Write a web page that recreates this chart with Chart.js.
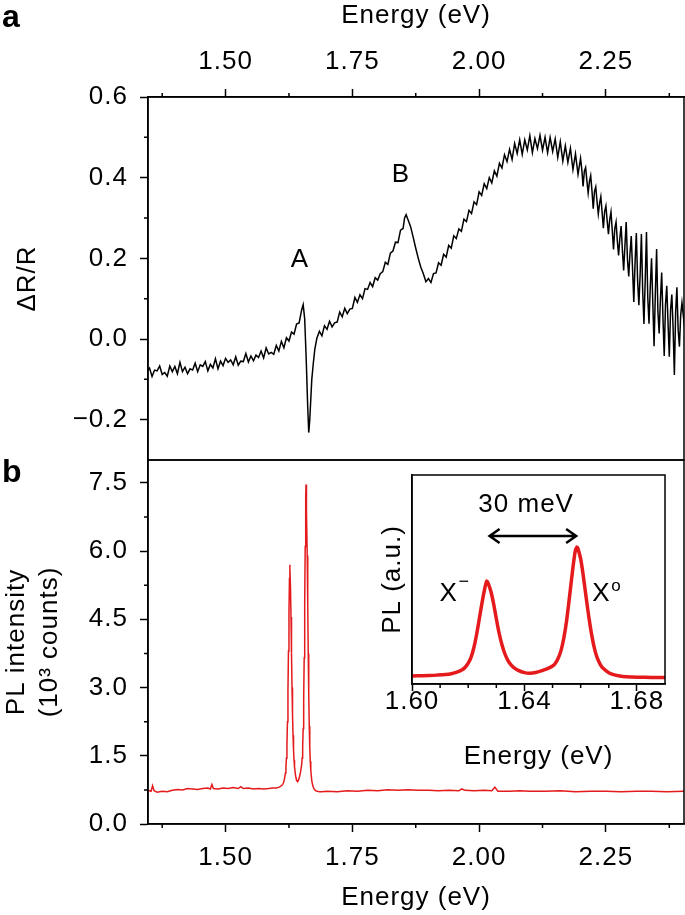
<!DOCTYPE html>
<html>
<head>
<meta charset="utf-8">
<script src="https://cdn.jsdelivr.net/npm/chart.js@4.4.0/dist/chart.umd.min.js"></script>
<style>
  html, body { margin: 0; padding: 0; background: #fff; }
  #wrap { position: relative; width: 685px; height: 915px; }
  #wrap canvas { position: absolute; left: 0; top: 0; }
</style>
</head>
<body>
<div id="wrap">
  <canvas id="reflect_canvas" width="685" height="915"></canvas>
  <canvas id="pl_canvas" width="685" height="915"></canvas>
  <canvas id="inset_canvas" width="685" height="915"></canvas>
</div>
<script>
/*--------------------------------------------------------------------------------
----- DATA
--------------------------------------------------------------------------------*/

// shared energy axis of panels a and b
const energyTicks = [1.50, 1.75, 2.00, 2.25];
const energyMinor = [1.375, 1.625, 1.875, 2.125, 2.375];

// panel a: differential reflectance
const dRRTicks = [-0.2, 0.0, 0.2, 0.4, 0.6];
const dRRMinor = [-0.1, 0.1, 0.3, 0.5];

const reflEnergy = [
    1.345, 1.350, 1.355, 1.360, 1.365, 1.370, 1.375, 1.380, 1.385, 1.390,
    1.395, 1.400, 1.405, 1.410, 1.415, 1.420, 1.425, 1.430, 1.435, 1.440,
    1.445, 1.450, 1.455, 1.460, 1.465, 1.470, 1.475, 1.480, 1.485, 1.490,
    1.495, 1.500, 1.505, 1.510, 1.515, 1.520, 1.525, 1.530, 1.535, 1.540,
    1.545, 1.550, 1.555, 1.560, 1.565, 1.570, 1.575, 1.580, 1.585, 1.590,
    1.595, 1.600, 1.605, 1.610, 1.615, 1.620, 1.625, 1.630, 1.635, 1.640,
    1.645, 1.650, 1.653, 1.656, 1.659, 1.662, 1.664, 1.666, 1.668, 1.670,
    1.673, 1.676, 1.680, 1.685, 1.690, 1.695, 1.700, 1.705, 1.710, 1.715,
    1.720, 1.725, 1.730, 1.735, 1.740, 1.745, 1.750, 1.755, 1.760, 1.765,
    1.770, 1.775, 1.780, 1.785, 1.790, 1.795, 1.800, 1.805, 1.810, 1.815,
    1.820, 1.825, 1.830, 1.835, 1.840, 1.845, 1.850, 1.853, 1.856, 1.860,
    1.865, 1.870, 1.875, 1.880, 1.885, 1.890, 1.895, 1.900, 1.905, 1.910,
    1.915, 1.920, 1.925, 1.930, 1.935, 1.940, 1.945, 1.950, 1.955, 1.960,
    1.965, 1.970, 1.975, 1.980, 1.985, 1.990, 1.995, 2.000, 2.005, 2.010,
    2.015, 2.020, 2.025, 2.030, 2.035, 2.040, 2.045, 2.050, 2.055, 2.060,
    2.065, 2.070, 2.075, 2.080, 2.085, 2.090, 2.095, 2.100, 2.105, 2.110,
    2.115, 2.120, 2.125, 2.130, 2.135, 2.140, 2.145, 2.150, 2.155, 2.160,
    2.165, 2.170, 2.175, 2.180, 2.185, 2.190, 2.195, 2.200, 2.2025, 2.205,
    2.2075, 2.210, 2.2125, 2.215, 2.2175, 2.220, 2.2225, 2.225, 2.2275, 2.230,
    2.2325, 2.235, 2.2375, 2.240, 2.2425, 2.245, 2.2475, 2.250, 2.2525, 2.255,
    2.2575, 2.260, 2.2625, 2.265, 2.2675, 2.270, 2.2725, 2.275, 2.2775, 2.280,
    2.2825, 2.285, 2.2875, 2.290, 2.2925, 2.295, 2.2975, 2.300, 2.3025, 2.305,
    2.3075, 2.310, 2.3125, 2.315, 2.3175, 2.320, 2.3225, 2.325, 2.3275, 2.330,
    2.3325, 2.335, 2.3375, 2.340, 2.3425, 2.345, 2.3475, 2.350, 2.3525, 2.355,
    2.3575, 2.360, 2.3625, 2.365, 2.3675, 2.370, 2.3725, 2.375, 2.3775, 2.380,
    2.3825, 2.385, 2.3875, 2.390, 2.3925, 2.395, 2.3975, 2.400, 2.405
];
const reflDRR = [
    -0.080, -0.072, -0.093, -0.077, -0.079, -0.067, -0.088, -0.083, -0.092, -0.067,
    -0.081, -0.068, -0.086, -0.058, -0.081, -0.070, -0.086, -0.074, -0.077, -0.060,
    -0.081, -0.064, -0.068, -0.056, -0.079, -0.063, -0.072, -0.049, -0.074, -0.055,
    -0.066, -0.048, -0.058, -0.052, -0.064, -0.044, -0.065, -0.055, -0.056, -0.036,
    -0.057, -0.042, -0.054, -0.040, -0.046, -0.030, -0.047, -0.022, -0.037, -0.033,
    -0.038, -0.016, -0.030, -0.006, -0.022, 0.003, -0.005, 0.017, 0.012, 0.037,
    0.040, 0.072, 0.085, 0.050, -0.050, -0.170, -0.232, -0.200, -0.150, -0.100,
    -0.060, -0.025, 0.002, 0.019, 0.008, 0.033, 0.024, 0.044, 0.030, 0.040,
    0.042, 0.067, 0.055, 0.076, 0.063, 0.074, 0.076, 0.103, 0.091, 0.110,
    0.100, 0.125, 0.123, 0.140, 0.130, 0.152, 0.146, 0.162, 0.167, 0.190,
    0.185, 0.213, 0.218, 0.240, 0.239, 0.270, 0.274, 0.300, 0.308, 0.295,
    0.278, 0.252, 0.225, 0.200, 0.178, 0.162, 0.142, 0.150, 0.140, 0.162,
    0.164, 0.189, 0.183, 0.210, 0.203, 0.232, 0.225, 0.256, 0.249, 0.273,
    0.267, 0.297, 0.291, 0.319, 0.311, 0.340, 0.333, 0.365, 0.356, 0.385,
    0.373, 0.400, 0.387, 0.417, 0.404, 0.436, 0.424, 0.457, 0.440, 0.470,
    0.445, 0.485, 0.460, 0.494, 0.458, 0.494, 0.469, 0.504, 0.462, 0.497,
    0.472, 0.505, 0.468, 0.500, 0.462, 0.500, 0.465, 0.496, 0.450, 0.489,
    0.441, 0.479, 0.438, 0.473, 0.420, 0.459, 0.408, 0.448, 0.420, 0.378,
    0.416, 0.425, 0.392, 0.362, 0.390, 0.405, 0.368, 0.323, 0.366, 0.377,
    0.341, 0.310, 0.336, 0.353, 0.314, 0.275, 0.316, 0.330, 0.293, 0.260,
    0.296, 0.315, 0.270, 0.222, 0.274, 0.290, 0.244, 0.207, 0.250, 0.280,
    0.220, 0.170, 0.231, 0.290, 0.198, 0.155, 0.212, 0.255, 0.175, 0.092,
    0.190, 0.263, 0.146, 0.084, 0.160, 0.260, 0.120, 0.037, 0.145, 0.265,
    0.104, 0.038, 0.130, 0.200, 0.088, -0.018, 0.115, 0.223, 0.070, 0.014,
    0.098, 0.165, 0.052, -0.042, 0.085, 0.132, 0.040, -0.044, 0.072, 0.110,
    0.028, -0.089, 0.066, 0.128, 0.022, -0.019, 0.060, 0.090, 0.030
];

// panel b: photoluminescence, in 10^3 counts (also used by the inset)
const plTicks = [0.0, 1.5, 3.0, 4.5, 6.0, 7.5];
const plMinor = [0.75, 2.25, 3.75, 5.25, 6.75];

const plEnergy = [
    1.345, 1.350, 1.353, 1.356, 1.359, 1.365, 1.375, 1.385, 1.395, 1.405,
    1.415, 1.425, 1.435, 1.445, 1.455, 1.465, 1.470, 1.473, 1.476, 1.485,
    1.495, 1.505, 1.515, 1.525, 1.530, 1.535, 1.545, 1.555, 1.565, 1.575,
    1.585, 1.592, 1.600, 1.603, 1.606, 1.609, 1.612, 1.614, 1.616, 1.618,
    1.619, 1.620, 1.621, 1.622, 1.623, 1.624, 1.625, 1.626, 1.6266, 1.627,
    1.628, 1.629, 1.630, 1.631, 1.632, 1.633, 1.634, 1.635, 1.636, 1.638,
    1.640, 1.642, 1.644, 1.646, 1.648, 1.650, 1.651, 1.652, 1.653, 1.654,
    1.655, 1.656, 1.657, 1.658, 1.6586, 1.659, 1.660, 1.661, 1.662, 1.663,
    1.664, 1.665, 1.666, 1.667, 1.668, 1.670, 1.672, 1.675, 1.678, 1.681,
    1.685, 1.690, 1.700, 1.720, 1.740, 1.760, 1.780, 1.800, 1.820, 1.840,
    1.860, 1.880, 1.900, 1.920, 1.940, 1.960, 1.966, 1.972, 1.990, 2.010,
    2.025, 2.031, 2.037, 2.060, 2.080, 2.100, 2.130, 2.160, 2.190, 2.220,
    2.250, 2.280, 2.310, 2.340, 2.370, 2.405
];
const plCounts = [
    0.74, 0.73, 0.72, 0.84, 0.73, 0.70, 0.72, 0.71, 0.74, 0.76,
    0.75, 0.78, 0.77, 0.76, 0.78, 0.79, 0.77, 0.87, 0.78, 0.77,
    0.79, 0.78, 0.80, 0.78, 0.82, 0.78, 0.79, 0.77, 0.78, 0.77,
    0.78, 0.79, 0.79, 0.80, 0.81, 0.83, 0.86, 0.90, 0.98, 1.12,
    1.25, 1.45, 1.75, 2.25, 2.95, 3.80, 4.65, 5.40, 5.70, 5.62,
    5.20, 4.55, 3.75, 3.00, 2.40, 1.95, 1.62, 1.40, 1.25, 1.06,
    0.96, 0.93, 0.97, 1.05, 1.15, 1.30, 1.45, 1.70, 2.10, 2.75,
    3.65, 4.85, 6.10, 7.20, 7.46, 7.40, 6.85, 5.90, 4.80, 3.75,
    2.85, 2.15, 1.68, 1.38, 1.18, 0.95, 0.84, 0.76, 0.73, 0.72,
    0.71, 0.71, 0.72, 0.71, 0.73, 0.72, 0.74, 0.73, 0.75, 0.74,
    0.75, 0.74, 0.74, 0.73, 0.74, 0.73, 0.77, 0.74, 0.73, 0.74,
    0.73, 0.81, 0.72, 0.72, 0.73, 0.72, 0.72, 0.73, 0.71, 0.72,
    0.72, 0.71, 0.72, 0.72, 0.71, 0.72
];

// inset energy axis
const insetTicks = [1.60, 1.64, 1.68];
const insetMinor = [1.61, 1.62, 1.63, 1.65, 1.66, 1.67];

/*--------------------------------------------------------------------------------
----- HELPERS / PLUGINS
--------------------------------------------------------------------------------*/

const FAMILY = '"Liberation Sans", Arial, Helvetica, sans-serif';
const RED = 'rgb(228, 26, 28)';
Chart.defaults.font.family = FAMILY;
Chart.defaults.color = '#000';

function toPoints(xs, ys) {
    return xs.map((x, i) => ({ x: x, y: ys[i] }));
}

function fixedTicks(values) {
    return scale => { scale.ticks = values.map(v => ({ value: v })); };
}

// the figure's lettering is a little wider than Liberation Sans
const spacedText = {
    id: 'spacedText',
    beforeLayout(chart) { chart.ctx.letterSpacing = '1px'; },
    beforeDraw(chart) { chart.ctx.letterSpacing = '1px'; }
};

// short minor ticks, drawn next to the library's major ticks
const minorTicks = {
    id: 'minorTicks',
    afterDraw(chart, args, opts) {
        const ctx = chart.ctx;
        ctx.save();
        ctx.strokeStyle = '#000';
        ctx.lineWidth = 1.5;
        ctx.beginPath();
        (opts.sets || []).forEach(set => {
            const scale = chart.scales[set.axis];
            set.values.forEach(v => {
                const p = scale.getPixelForValue(v);
                if (scale.position === 'top') {
                    ctx.moveTo(p, scale.bottom); ctx.lineTo(p, scale.bottom - set.len);
                } else if (scale.position === 'bottom') {
                    ctx.moveTo(p, scale.top); ctx.lineTo(p, scale.top + set.len);
                } else {
                    ctx.moveTo(scale.right, p); ctx.lineTo(scale.right - set.len, p);
                }
            });
        });
        ctx.stroke();
        ctx.restore();
    }
};

// closed box around the plot area
const frame = {
    id: 'frame',
    afterDatasetsDraw(chart) {
        const { ctx, chartArea: a } = chart;
        ctx.save();
        ctx.strokeStyle = '#000';
        ctx.lineWidth = 1.5;
        ctx.strokeRect(a.left, a.top, a.right - a.left, a.bottom - a.top);
        ctx.restore();
    }
};

function drawText(ctx, text, x, y, font, align, baseline) {
    ctx.font = font;
    ctx.fillStyle = '#000';
    ctx.textAlign = align || 'center';
    ctx.textBaseline = baseline || 'middle';
    ctx.fillText(text, x, y);
}

function axisOptions(extra) {
    return Object.assign({
        type: 'linear',
        grid: { drawOnChartArea: false, tickLength: 8, tickColor: '#000', tickWidth: 1.5 },
        border: { color: '#000', width: 1.5 },
        ticks: { font: { size: 26 }, autoSkip: false, maxRotation: 0, padding: 10 }
    }, extra);
}

/*--------------------------------------------------------------------------------
----- PANEL a: reflectance contrast
--------------------------------------------------------------------------------*/

new Chart(document.getElementById('reflect_canvas').getContext('2d'), {
    type: 'line',
    data: {
        datasets: [{
            data: toPoints(reflEnergy, reflDRR),
            borderColor: '#000',
            borderWidth: 1.5,
            pointRadius: 0,
            tension: 0
        }]
    },
    options: {
        responsive: false,
        animation: false,
        layout: { padding: { left: 0, right: 1, top: 0, bottom: 455 } },
        plugins: {
            legend: { display: false },
            tooltip: { enabled: false },
            minorTicks: { sets: [
                { axis: 'x', values: energyMinor, len: 4 },
                { axis: 'y', values: dRRMinor, len: 4 }
            ] }
        },
        scales: {
            x: axisOptions({
                position: 'top', min: 1.347, max: 2.404,
                afterBuildTicks: fixedTicks(energyTicks),
                afterFit: s => { s.height = 97; },
                ticks: { font: { size: 26 }, autoSkip: false, maxRotation: 0, padding: 12,
                         callback: v => v.toFixed(2) },
                title: { display: true, text: 'Energy (eV)', font: { size: 26, lineHeight: 1.2 },
                         padding: { top: 0, bottom: 0 } }
            }),
            y: axisOptions({
                position: 'left', min: -0.3, max: 0.6,
                afterBuildTicks: fixedTicks(dRRTicks),
                afterFit: s => { s.width = 148; },
                ticks: { font: { size: 26 }, autoSkip: false, padding: 12,
                         callback: v => (v < 0 ? '\u2212' : '') + Math.abs(v).toFixed(1) },
                title: { display: true, text: '\u0394R/R', font: { size: 26, lineHeight: 1.2 },
                         padding: { top: 12, bottom: 0 } }
            })
        }
    },
    plugins: [spacedText, minorTicks, frame, {
        id: 'panelALabels',
        afterDraw(chart) {
            const { ctx, scales: { x, y } } = chart;
            ctx.save();
            drawText(ctx, 'a', 2, 27, 'bold 32px ' + FAMILY, 'left', 'alphabetic');
            drawText(ctx, 'A', x.getPixelForValue(1.6466), y.getPixelForValue(0.196), '26px ' + FAMILY);
            drawText(ctx, 'B', x.getPixelForValue(1.846), y.getPixelForValue(0.408), '26px ' + FAMILY);
            ctx.restore();
        }
    }]
});

/*--------------------------------------------------------------------------------
----- PANEL b: photoluminescence spectrum
--------------------------------------------------------------------------------*/

new Chart(document.getElementById('pl_canvas').getContext('2d'), {
    type: 'line',
    data: {
        datasets: [{
            data: toPoints(plEnergy, plCounts),
            borderColor: RED,
            borderWidth: 1.5,
            pointRadius: 0,
            tension: 0
        }]
    },
    options: {
        responsive: false,
        animation: false,
        layout: { padding: { left: 0, right: 1, top: 460, bottom: 0 } },
        plugins: {
            legend: { display: false },
            tooltip: { enabled: false },
            minorTicks: { sets: [
                { axis: 'x', values: energyMinor, len: 4 },
                { axis: 'y', values: plMinor, len: 4 }
            ] }
        },
        scales: {
            x: axisOptions({
                position: 'bottom', min: 1.347, max: 2.404,
                afterBuildTicks: fixedTicks(energyTicks),
                afterFit: s => { s.height = 91; },
                ticks: { font: { size: 26 }, autoSkip: false, maxRotation: 0, padding: 10,
                         callback: v => v.toFixed(2) },
                title: { display: true, text: 'Energy (eV)', font: { size: 26, lineHeight: 1.2 },
                         padding: { top: 0, bottom: 2 } }
            }),
            y: axisOptions({
                position: 'left', min: 0, max: 8.0,
                afterBuildTicks: fixedTicks(plTicks),
                afterFit: s => { s.width = 148; },
                ticks: { font: { size: 26 }, autoSkip: false, padding: 12,
                         callback: v => v.toFixed(1) },
                title: { display: true, text: ['PL intensity', '(10\u00B3 counts)'],
                         font: { size: 26, lineHeight: 1.27 }, padding: { top: 0, bottom: 0 } }
            })
        }
    },
    plugins: [spacedText, minorTicks, frame, {
        id: 'panelBLabels',
        afterDraw(chart) {
            const ctx = chart.ctx;
            ctx.save();
            drawText(ctx, 'b', 2, 482, 'bold 32px ' + FAMILY, 'left', 'alphabetic');
            ctx.restore();
        }
    }]
});

/*--------------------------------------------------------------------------------
----- INSET: zoom on the two exciton peaks
--------------------------------------------------------------------------------*/

new Chart(document.getElementById('inset_canvas').getContext('2d'), {
    type: 'line',
    data: {
        datasets: [{
            data: toPoints(plEnergy, plCounts),
            borderColor: RED,
            borderWidth: 3.5,
            pointRadius: 0,
            tension: 0.3
        }]
    },
    options: {
        responsive: false,
        animation: false,
        layout: { padding: { left: 377, right: 20, top: 475, bottom: 143 } },
        plugins: {
            legend: { display: false },
            tooltip: { enabled: false },
            minorTicks: { sets: [ { axis: 'x', values: insetMinor, len: 4 } ] }
        },
        scales: {
            x: axisOptions({
                position: 'bottom', min: 1.60, max: 1.69,
                afterBuildTicks: fixedTicks(insetTicks),
                afterFit: s => { s.height = 88; },
                grid: { drawOnChartArea: false, tickLength: 7, tickColor: '#000', tickWidth: 1.5 },
                ticks: { font: { size: 26 }, autoSkip: false, maxRotation: 0, padding: -5,
                         callback: v => v.toFixed(2) },
                title: { display: true, text: 'Energy (eV)', font: { size: 26, lineHeight: 1.2 },
                         padding: { top: 0, bottom: 0 } }
            }),
            y: axisOptions({
                position: 'left', min: 0.37, max: 11.2,
                afterFit: s => { s.width = 35; },
                grid: { drawOnChartArea: false, drawTicks: false },
                ticks: { display: false },
                title: { display: true, text: 'PL (a.u.)', font: { size: 26, lineHeight: 1.2 },
                         padding: { top: 0, bottom: 0 } }
            })
        }
    },
    plugins: [spacedText, minorTicks, frame, {
        id: 'insetLabels',
        afterDraw(chart) {
            const { ctx, scales: { x, y } } = chart;
            ctx.save();
            // splitting arrow between the two peaks
            const x1 = x.getPixelForValue(1.6276);
            const x2 = x.getPixelForValue(1.6584);
            const ya = y.getPixelForValue(8.04);
            ctx.strokeStyle = '#000';
            ctx.lineWidth = 2.5;
            ctx.beginPath();
            ctx.moveTo(x1, ya); ctx.lineTo(x2, ya);
            ctx.moveTo(x1 + 10, ya - 7); ctx.lineTo(x1, ya); ctx.lineTo(x1 + 10, ya + 7);
            ctx.moveTo(x2 - 10, ya - 7); ctx.lineTo(x2, ya); ctx.lineTo(x2 - 10, ya + 7);
            ctx.stroke();
            drawText(ctx, '30 meV', x.getPixelForValue(1.6406), y.getPixelForValue(9.65), '26px ' + FAMILY);

            const yx = y.getPixelForValue(5.03);
            const xm = x.getPixelForValue(1.6098);
            drawText(ctx, 'X', xm, yx, '26px ' + FAMILY, 'left');
            drawText(ctx, '\u2212', xm + 19, yx - 12, '18px ' + FAMILY, 'left');
            const xo = x.getPixelForValue(1.6641);
            drawText(ctx, 'X', xo, yx, '26px ' + FAMILY, 'left');
            drawText(ctx, 'o', xo + 19, yx - 8, '17px ' + FAMILY, 'left');
            ctx.restore();
        }
    }]
});
</script>
</body>
</html>
